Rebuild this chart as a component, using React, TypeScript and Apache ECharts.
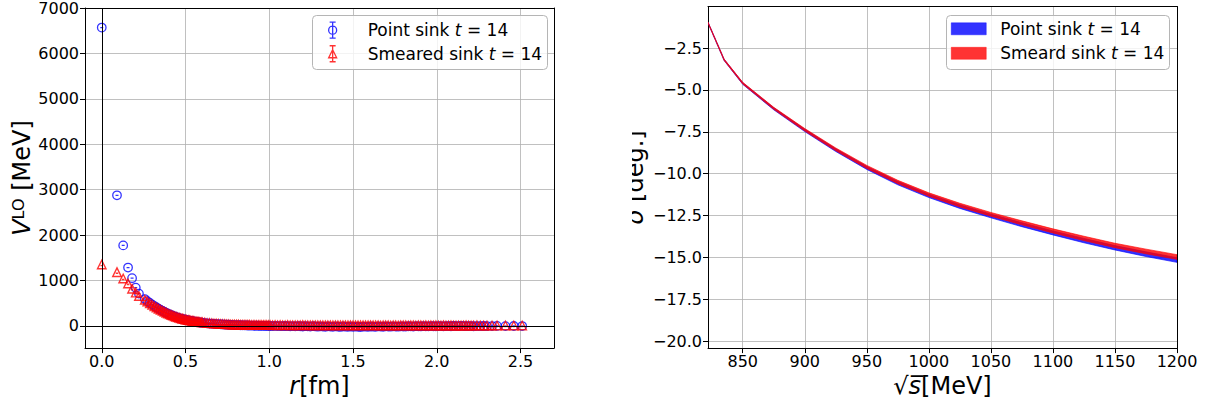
import { useEffect, useRef } from 'react';
import * as echarts from 'echarts';

const FONT = "'DejaVu Sans', sans-serif";

// ---- Left panel: V^LO vs r ----
const rValues = [
  0, 0.091, 0.128, 0.157, 0.181, 0.203, 0.222, 0.257, 0.272, 0.287, 0.301, 0.314, 0.327, 0.339, 0.351, 0.363,
  0.374, 0.385, 0.395, 0.406, 0.416, 0.425, 0.435, 0.444, 0.454, 0.463, 0.472, 0.481, 0.490, 0.499, 0.507, 0.516,
  0.524, 0.532, 0.540, 0.548, 0.556, 0.564, 0.571, 0.579, 0.586, 0.594, 0.601, 0.615, 0.629, 0.643, 0.657, 0.670,
  0.683, 0.696, 0.709, 0.721, 0.734, 0.746, 0.758, 0.770, 0.782, 0.793, 0.805, 0.816, 0.828, 0.839, 0.850, 0.861,
  0.872, 0.882, 0.893, 0.904, 0.914, 0.924, 0.935, 0.945, 0.955, 0.965, 0.975, 0.985, 0.995,
  1.005, 1.02, 1.035, 1.05, 1.065, 1.08, 1.095, 1.11, 1.125, 1.14, 1.155, 1.17, 1.185, 1.2, 1.215, 1.23,
  1.245, 1.26, 1.275, 1.29, 1.305, 1.32, 1.335, 1.35, 1.365, 1.38, 1.395, 1.41, 1.425, 1.44, 1.455, 1.47,
  1.485, 1.5, 1.515, 1.53, 1.545, 1.56, 1.575, 1.59, 1.605, 1.62, 1.635, 1.65, 1.665, 1.68, 1.695, 1.71,
  1.725, 1.74, 1.755, 1.77, 1.785, 1.8, 1.815, 1.83, 1.845, 1.86, 1.875, 1.89, 1.905, 1.92, 1.935, 1.95,
  1.965, 1.98, 1.995, 2.01, 2.025, 2.04, 2.055, 2.07, 2.085, 2.1, 2.115, 2.13, 2.145, 2.16, 2.175, 2.19,
  2.205, 2.22, 2.24, 2.26, 2.28, 2.30, 2.33, 2.36, 2.41, 2.46, 2.51,
];

const vPointSink = [
  6570, 2875, 1772, 1284, 1050, 840, 709, 590, 545, 505, 468, 436, 406, 378, 352, 328,
  306, 286, 268, 251, 235, 220, 206, 193, 181, 170, 160, 151, 142, 134, 126, 119,
  113, 107, 101, 96, 91, 86, 82, 78, 74, 70, 67, 61, 56, 51, 47, 43,
  40, 37, 34, 31, 29, 26, 24, 22, 20, 18, 16, 15, 13, 12, 10, 9,
  8, 7, 6, 5, 4, 3, 2, 1, 0, -1, -1, -2, -2,
  -3, -5, -2, -6, -4, -8, -3, -7, -10, -5, -12, -6, -9, -14, -7, -11,
  -16, -8, -13, -18, -10, -15, -20, -12, -17, -22, -11, -19, -24, -13, -18, -21,
  -14, -23, -16, -20, -25, -15, -19, -22, -14, -18, -21, -13, -17, -20, -12, -16,
  -19, -11, -15, -18, -10, -14, -17, -9, -12, -15, -8, -11, -13, -7, -10, -12,
  -6, -9, -11, -5, -8, -10, -4, -7, -9, -3, -6, -8, -2, -5, -7, -4,
  -6, -9, -4, -8, -3, -7, -5, -2, -6, -3, -4,
];

const vSmearedSink = [
  1350, 1182, 1044, 934, 818, 731, 657, 575, 535, 498, 463, 432, 403, 377, 352, 330,
  309, 290, 272, 255, 240, 226, 212, 200, 188, 177, 167, 158, 149, 141, 134, 127,
  121, 115, 110, 105, 100, 95, 91, 87, 83, 79, 76, 70, 64, 59, 55, 51,
  48, 45, 42, 40, 37, 35, 33, 31, 30, 28, 27, 26, 25, 24, 23, 22,
  21, 21, 20, 19, 19, 18, 18, 17, 17, 16, 16, 15, 15,
  15, 14, 16, 13, 15, 14, 12, 15, 13, 14, 12, 14, 13, 15, 12, 13,
  14, 11, 13, 12, 14, 12, 11, 13, 12, 14, 11, 12, 13, 11, 12, 10,
  13, 11, 12, 10, 11, 13, 10, 12, 11, 10, 12, 11, 9, 11, 10, 12,
  9, 11, 10, 9, 11, 10, 12, 9, 10, 11, 9, 10, 11, 9, 10, 8,
  11, 9, 10, 8, 9, 10, 8, 9, 10, 8, 9, 7, 9, 8, 10, 8,
  9, 8, 10, 7, 9, 8, 7, 9, 8, 7, 8,
];

// ---- Right panel: phase shift bands vs sqrt(s) ----
const sqrtS = [822, 835, 850, 875, 900, 925, 950, 975, 1000, 1025, 1050, 1075, 1100, 1125, 1150, 1175, 1200];
const pointLow = [-1.01, -3.25, -4.67, -6.19, -7.49, -8.68, -9.75, -10.67, -11.43, -12.08, -12.64, -13.17, -13.66, -14.13, -14.56, -14.95, -15.30];
const pointHigh = [-0.95, -3.17, -4.57, -6.07, -7.35, -8.52, -9.57, -10.47, -11.23, -11.86, -12.42, -12.93, -13.42, -13.87, -14.30, -14.67, -15.02];
const smearLow = [-1.01, -3.24, -4.65, -6.16, -7.45, -8.63, -9.69, -10.60, -11.35, -11.99, -12.54, -13.06, -13.54, -14.00, -14.42, -14.79, -15.12];
const smearHigh = [-0.95, -3.16, -4.55, -6.04, -7.31, -8.47, -9.51, -10.40, -11.15, -11.77, -12.32, -12.82, -13.30, -13.74, -14.16, -14.51, -14.84];

const legendLabels: Record<string, string> = {
  'Point sink': '{a|Point sink }{i|t}{a| = 14}',
  'Smeared sink': '{a|Smeared sink }{i|t}{a| = 14}',
  'Point sink δ': '{a|Point sink }{i|t}{a| = 14}',
  'Smeard sink δ': '{a|Smeard sink }{i|t}{a| = 14}',
};

const circleSym = 'path://M10,0A10,10,0,1,1,10,20A10,10,0,1,1,10,0ZM6.5,10L13.5,10';
const triSym = 'path://M10,0L20,20L0,20ZM7,12.5L13,12.5';
const phiIcon = 'path://M1,0L7,0M4,0L4,16M1,16L7,16M4,4A4,4,0,1,1,4,12A4,4,0,1,1,4,4Z';
const triIcon = 'path://M1,0L7,0M4,0L4,16M1,16L7,16M4,4L8,12L0,12Z';
const rectIcon = 'path://M0,0L35,0L35,12L0,12Z';

const BLUE_BAND = 'rgba(0,0,255,0.8)';
const RED_BAND = 'rgba(255,0,0,0.8)';

function bandRenderer(low: number[], high: number[], fill: string) {
  return (params: any, api: any) => {
    if (params.dataIndex !== 0) return null;
    const pts: number[][] = [];
    for (let i = 0; i < sqrtS.length; i++) pts.push(api.coord([sqrtS[i], high[i]]));
    for (let i = sqrtS.length - 1; i >= 0; i--) pts.push(api.coord([sqrtS[i], low[i]]));
    return { type: 'polygon', shape: { points: pts }, style: { fill, stroke: fill, lineWidth: 0.8, lineJoin: 'round' } };
  };
}

const tickLabel = { color: '#000', fontSize: 16, fontFamily: FONT };
const gridLine = { show: true, showMinLine: false, showMaxLine: false, lineStyle: { color: '#b0b0b0', width: 0.8 } };
const blackLine = { show: true, onZero: false, lineStyle: { color: '#000', width: 1 } };
const ticks = { show: true, length: 5, lineStyle: { color: '#000', width: 1 } };
const nameStyle = {
  color: '#000', fontSize: 24, fontFamily: FONT,
  rich: {
    i: { fontStyle: 'italic', fontSize: 24, fontFamily: FONT, color: '#000' },
    s: { fontSize: 16, fontFamily: FONT, color: '#000', verticalAlign: 'top', lineHeight: 15 },
  },
};
const legendText = (lh: number) => ({
  color: '#000', fontSize: 17, fontFamily: FONT, lineHeight: lh,
  rich: {
    a: { color: '#000', fontSize: 17, fontFamily: FONT, lineHeight: lh },
    i: { color: '#000', fontSize: 17, fontFamily: FONT, fontStyle: 'italic', lineHeight: lh },
  },
});
const frameOnly = (gridIndex: number, position: string, min: number, max: number) => ({
  type: 'value', gridIndex, position, min, max,
  axisLine: blackLine, axisTick: { show: false }, axisLabel: { show: false }, splitLine: { show: false },
});

function buildOption() {
  return {
    animation: false,
    backgroundColor: '#fff',
    textStyle: { fontFamily: FONT },
    grid: [
      { left: 85, top: 6.5, width: 469, height: 342.5 },
      { left: 708, top: 6.5, width: 469, height: 343 },
    ],
    xAxis: [
      {
        type: 'value', gridIndex: 0, min: -0.1, max: 2.7, minInterval: 0.5, maxInterval: 0.5,
        axisLine: blackLine, axisTick: ticks, splitLine: gridLine,
        axisLabel: { ...tickLabel, margin: 5, showMinLabel: false, showMaxLabel: false, formatter: (v: number) => v.toFixed(1) },
        name: '{i|r}[fm]', nameLocation: 'middle', nameGap: 23, nameTextStyle: nameStyle,
      },
      frameOnly(0, 'top', -0.1, 2.7),
      {
        type: 'value', gridIndex: 1, min: 822, max: 1200, minInterval: 50, maxInterval: 50,
        axisLine: blackLine, axisTick: ticks, splitLine: gridLine,
        axisLabel: { ...tickLabel, margin: 5, showMinLabel: false, formatter: (v: number) => String(v) },
        name: '√{i|s̅}[MeV]', nameLocation: 'middle', nameGap: 23, nameTextStyle: nameStyle,
      },
      frameOnly(1, 'top', 822, 1200),
    ],
    yAxis: [
      {
        type: 'value', gridIndex: 0, min: -490, max: 7000, minInterval: 1000, maxInterval: 1000,
        axisLine: blackLine, axisTick: ticks, splitLine: gridLine,
        axisLabel: { ...tickLabel, margin: 6, showMinLabel: false, formatter: (v: number) => String(v) },
        name: '{i|V}{s|LO} [MeV]', nameLocation: 'middle', nameGap: 51, nameTextStyle: nameStyle,
      },
      frameOnly(0, 'right', -490, 7000),
      {
        type: 'value', gridIndex: 1, min: -20.42, max: -0.02, minInterval: 2.5, maxInterval: 2.5,
        axisLine: blackLine, axisTick: ticks, splitLine: gridLine,
        axisLabel: {
          ...tickLabel, margin: 6, showMinLabel: false, showMaxLabel: false,
          formatter: (v: number) => v.toFixed(1).replace('-', '\u2212'),
        },
        name: '{i|δ} [deg.]', nameLocation: 'middle', nameGap: 61, nameTextStyle: nameStyle,
      },
      frameOnly(1, 'right', -20.42, -0.02),
    ],
    legend: [
      {
        orient: 'vertical', left: 328, top: 21.5, padding: 0, itemWidth: 60, itemHeight: 16, itemGap: 6.3,
        selectedMode: false, z: 10,
        data: [
          { name: 'Point sink', icon: phiIcon, itemStyle: { color: 'rgba(0,0,0,0)', borderColor: '#0000ff', borderWidth: 1.3 } },
          { name: 'Smeared sink', icon: triIcon, itemStyle: { color: 'rgba(0,0,0,0)', borderColor: '#ff0000', borderWidth: 1.3 } },
        ],
        formatter: (n: string) => legendLabels[n],
        textStyle: legendText(16),
      },
      {
        orient: 'vertical', left: 951, top: 20.3, padding: 0, itemWidth: 53, itemHeight: 12, itemGap: 7.5,
        selectedMode: false, z: 10,
        data: [
          { name: 'Point sink δ', icon: rectIcon, itemStyle: { color: BLUE_BAND, borderColor: BLUE_BAND, borderWidth: 0.5 } },
          { name: 'Smeard sink δ', icon: rectIcon, itemStyle: { color: RED_BAND, borderColor: RED_BAND, borderWidth: 0.5 } },
        ],
        formatter: (n: string) => legendLabels[n],
        textStyle: legendText(12),
      },
    ],
    graphic: [
      { type: 'rect', z: 5, shape: { x: 312.5, y: 15.5, width: 235, height: 54, r: 4 }, style: { fill: 'rgba(255,255,255,0.8)', stroke: '#b5b5b5', lineWidth: 1 } },
      { type: 'rect', z: 5, shape: { x: 946.5, y: 15.5, width: 223, height: 54, r: 4 }, style: { fill: 'rgba(255,255,255,0.8)', stroke: '#b5b5b5', lineWidth: 1 } },
      { type: 'rect', z: 100, shape: { x: 590, y: 95, width: 42, height: 170 }, style: { fill: '#fff' } },
    ],
    series: [
      {
        name: 'Point sink', type: 'scatter', xAxisIndex: 0, yAxisIndex: 0,
        data: rValues.map((r, i) => [r, vPointSink[i]]),
        symbol: circleSym, symbolSize: 8.5,
        itemStyle: { color: 'rgba(0,0,0,0)', borderColor: '#0000ff', borderWidth: 1.3 },
        markLine: {
          silent: true, symbol: ['none', 'none'], label: { show: false },
          lineStyle: { color: '#000', width: 1, type: 'solid' },
          data: [{ yAxis: 0 }, { xAxis: 0 }],
        },
      },
      {
        name: 'Smeared sink', type: 'scatter', xAxisIndex: 0, yAxisIndex: 0,
        data: rValues.map((r, i) => [r, vSmearedSink[i]]),
        symbol: triSym, symbolSize: 8.5,
        itemStyle: { color: 'rgba(0,0,0,0)', borderColor: '#ff0000', borderWidth: 1.4 },
      },
      {
        name: 'Point sink δ', type: 'custom', xAxisIndex: 2, yAxisIndex: 2, clip: true,
        itemStyle: { color: BLUE_BAND },
        data: sqrtS.map((x, i) => [x, pointLow[i], pointHigh[i]]),
        encode: { x: 0, y: [1, 2] },
        renderItem: bandRenderer(pointLow, pointHigh, BLUE_BAND),
      },
      {
        name: 'Smeard sink δ', type: 'custom', xAxisIndex: 2, yAxisIndex: 2, clip: true,
        itemStyle: { color: RED_BAND },
        data: sqrtS.map((x, i) => [x, smearLow[i], smearHigh[i]]),
        encode: { x: 0, y: [1, 2] },
        renderItem: bandRenderer(smearLow, smearHigh, RED_BAND),
      },
    ],
  };
}

export default function App() {
  const ref = useRef<HTMLDivElement>(null);
  useEffect(() => {
    if (!ref.current) return;
    const chart = echarts.init(ref.current, null, { renderer: 'svg' });
    chart.setOption(buildOption() as any);
    return () => chart.dispose();
  }, []);
  return (
    <div
      ref={ref}
      style={{ position: 'absolute', left: 0, top: 0, width: 1205, height: 403, background: '#fff' }}
    />
  );
}
